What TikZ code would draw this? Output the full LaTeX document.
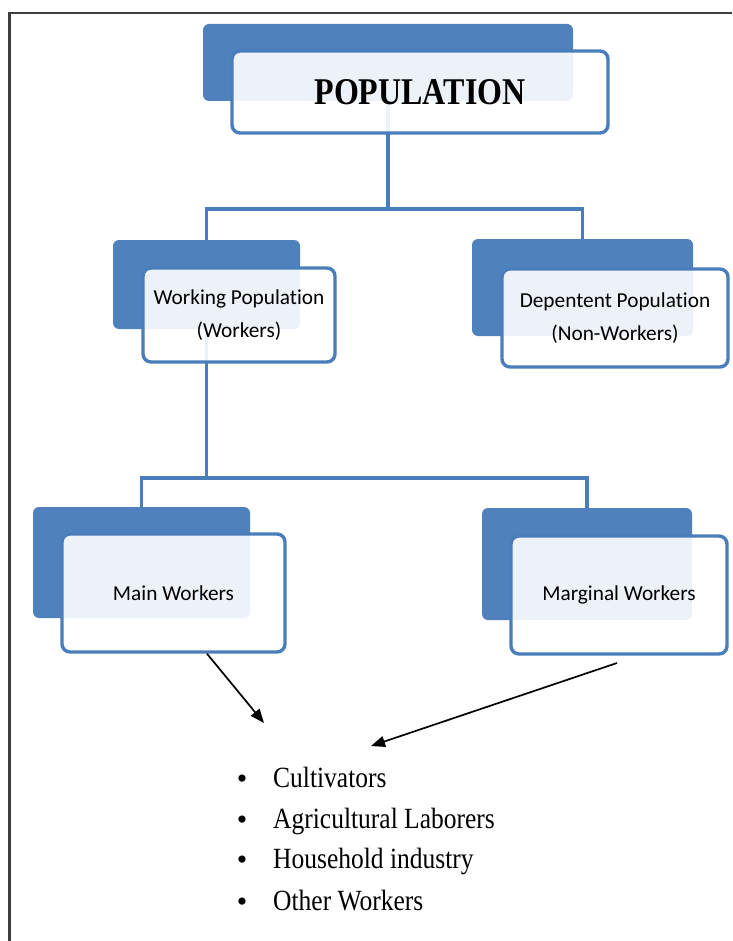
\documentclass[tikz,border=0pt]{standalone}
\usepackage{fontspec}
\setmainfont{Liberation Serif}
\newfontfamily\boxfont[Ligatures=NoCommon]{Carlito}
\usetikzlibrary{arrows.meta}
\definecolor{dblue}{HTML}{4F81BD}
\definecolor{lblue}{HTML}{4A7EBB}
\definecolor{frame}{HTML}{3F3F3F}
\tikzset{
  backbox/.style={fill=dblue, rounded corners=6pt, inner sep=0pt},
  frontbox/.style={draw=lblue, line width=3.4pt, fill=white, fill opacity=0.9, text opacity=1,
    rounded corners=8pt, inner sep=0pt, align=center, font=\boxfont\fontsize{21.3}{33}\selectfont},
  conn/.style={draw=lblue, line width=3.6pt},
  arr/.style={draw=black, line width=1.7pt, -{Triangle[length=14pt,width=11pt]}},
  bul/.style={inner sep=0pt, anchor=base, font=\fontsize{30}{30}\selectfont},
  itemtext/.style={inner sep=0pt, anchor=base west, font=\fontsize{25.5}{30}\selectfont}
}
\newcommand{\tall}[1]{\scalebox{1}[1.15]{#1}}
\begin{document}
\begin{tikzpicture}[x=1pt,y=-1pt]
\useasboundingbox (0,0) rectangle (732,941);
% frame
\draw[frame, line width=2.2pt] (9.5,941) -- (9.5,13) -- (732,13);
% back boxes
\node[backbox, minimum width=370pt, minimum height=77pt] (popB) at (388,62.5) {};
\node[backbox, minimum width=187pt, minimum height=89pt] (wrkB) at (206.5,284.5) {};
\node[backbox, minimum width=221pt, minimum height=97pt] (depB) at (582.5,287.5) {};
\node[backbox, minimum width=217pt, minimum height=111pt] (mainB) at (141.5,562.5) {};
\node[backbox, minimum width=210pt, minimum height=112pt] (margB) at (587,564) {};
% connectors
\coordinate (j1) at (388,209);
\coordinate (j2) at (206.5,478);
\draw[conn] (popB.south) -- (j1);
\draw[conn] (wrkB.north) |- (j1) -| (depB.north);
\draw[conn] (wrkB.south) -- (j2);
\draw[conn] (mainB.north) |- (j2) -| (margB.north);
% front boxes
\node[frontbox, minimum width=376pt, minimum height=82pt] (pop) at (420,92)
  {\raisebox{-3pt}{\scalebox{1}[1.18]{\rmfamily\bfseries\fontsize{32}{36}\selectfont POPULATION}}};
\node[frontbox, minimum width=192pt, minimum height=94pt] (wrk) at (239,315)
  {Working Population\\(Workers)};
\node[frontbox, minimum width=226pt, minimum height=98pt] (dep) at (615,318)
  {Depentent Population\\(Non-Workers)};
\node[frontbox, minimum width=223pt, minimum height=118pt] (main) at (173.5,593)
  {Main Workers};
\node[frontbox, minimum width=216pt, minimum height=118pt] (marg) at (619,595)
  {Marginal Workers};
% arrows
\coordinate (t1) at (264,723);
\coordinate (t2) at (371,746);
\coordinate (s2) at (617,663);
\draw[arr] (main.south -| 207,0) -- (t1);
\draw[arr] (s2) -- (t2);
% list
\node[bul] (b1) at (242,788) {•};
\node[itemtext] (i1) at (273,787) {\tall{Cultivators}};
\node[bul] (b2) at (242,829) {•};
\node[itemtext] (i2) at (273,828) {\tall{Agricultural Laborers}};
\node[bul] (b3) at (242,869) {•};
\node[itemtext] (i3) at (273,868) {\tall{Household industry}};
\node[bul] (b4) at (242,911) {•};
\node[itemtext] (i4) at (273,910) {\tall{Other Workers}};
\end{tikzpicture}
\end{document}
